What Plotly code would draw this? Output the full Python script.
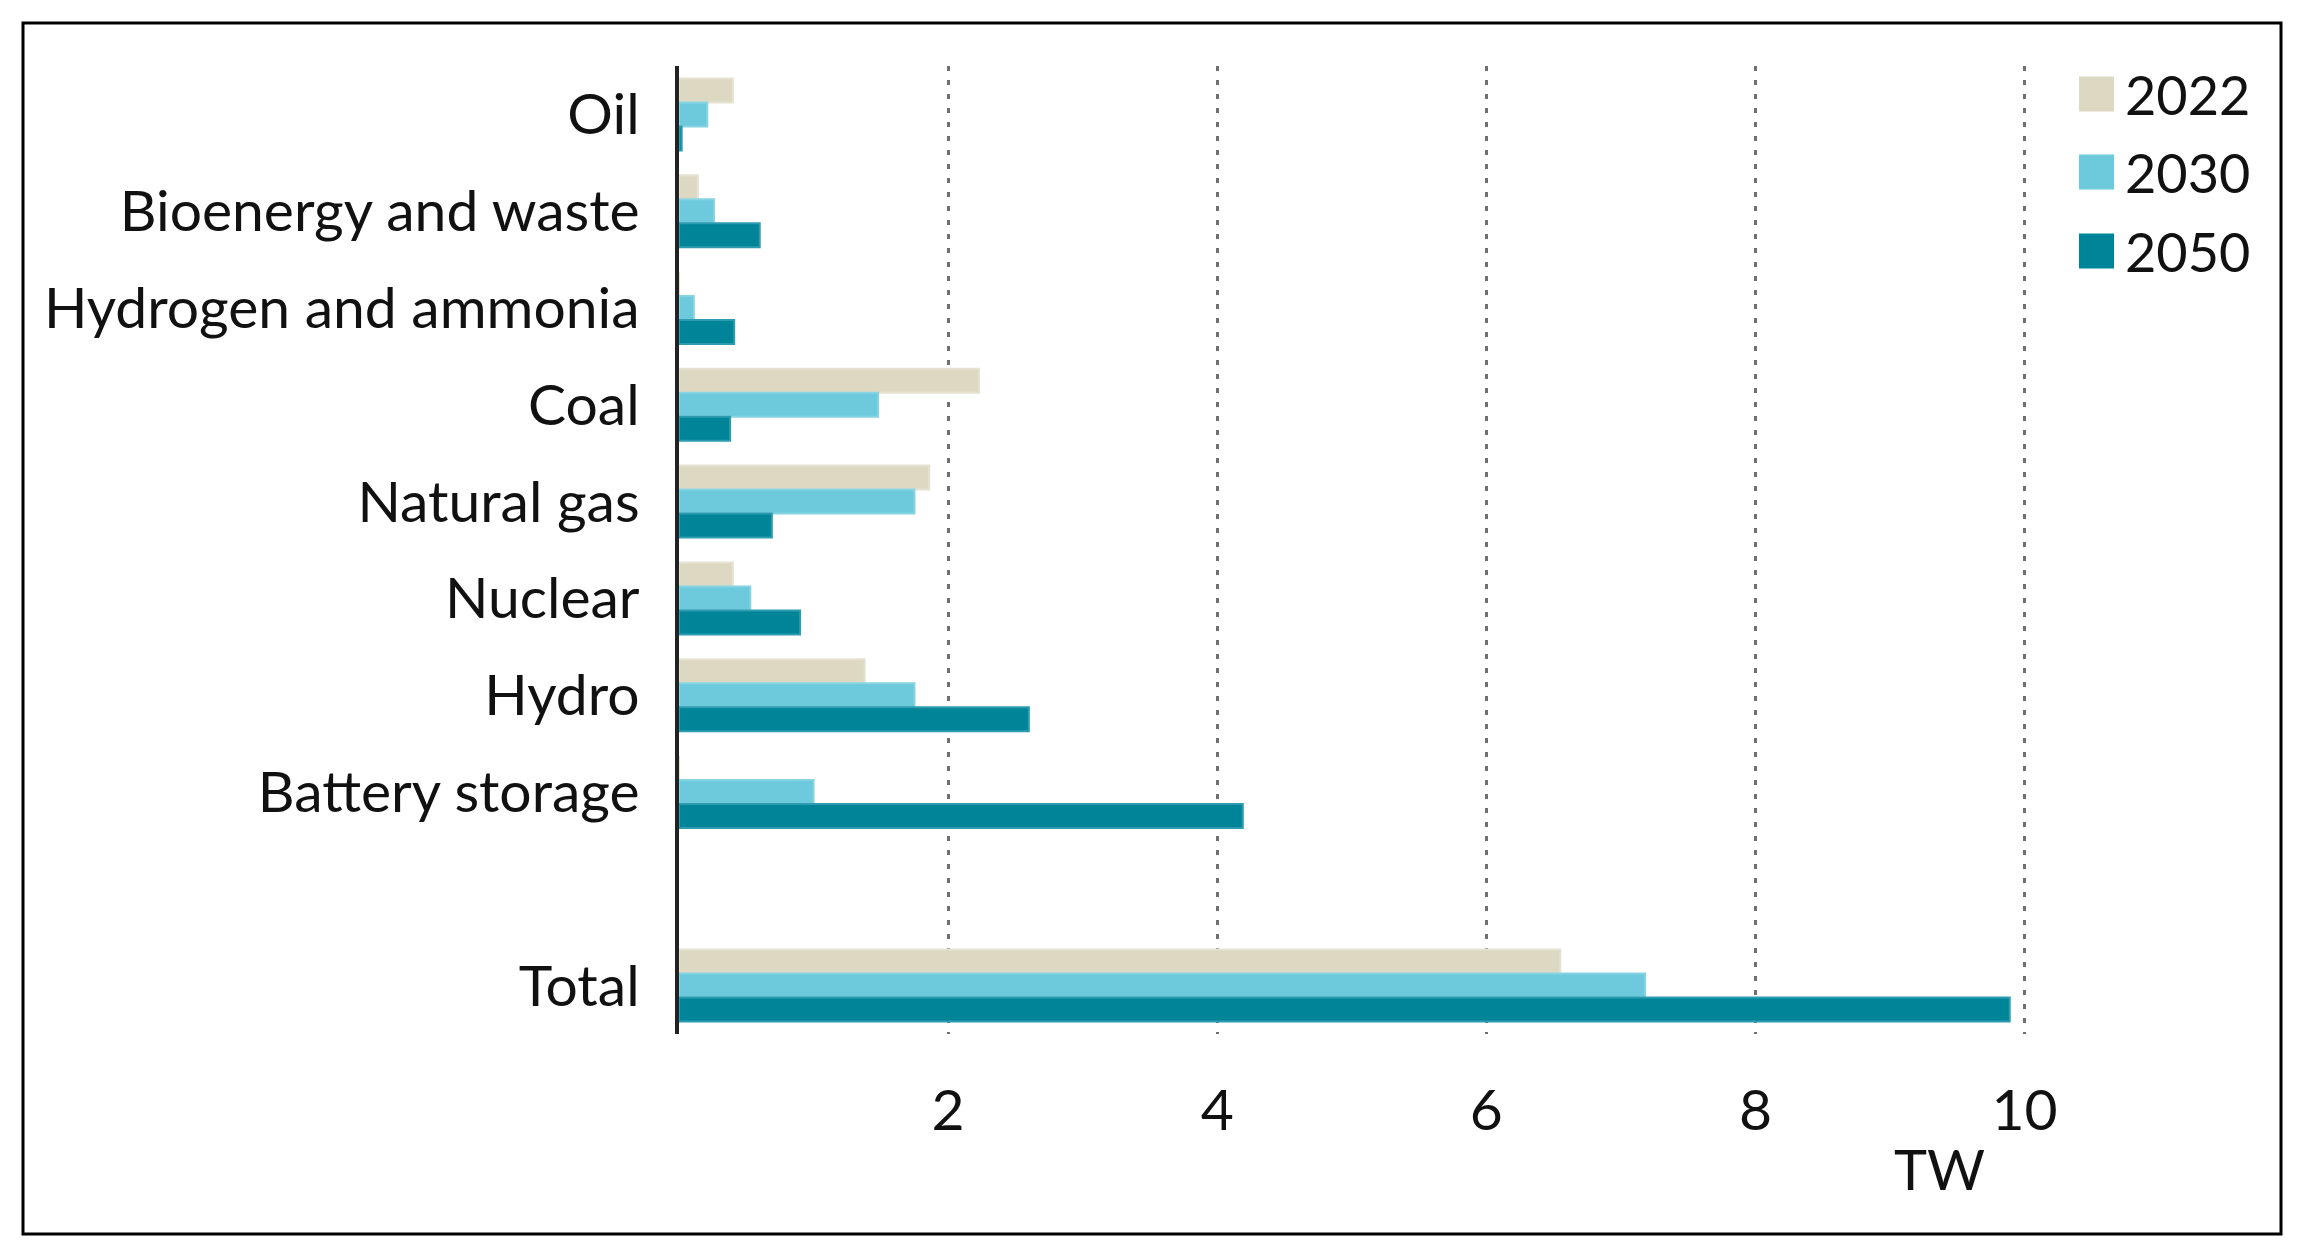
import plotly.graph_objects as go

# ---- data ----
categories = ["Oil", "Bioenergy and waste", "Hydrogen and ammonia", "Coal",
              "Natural gas", "Nuclear", "Hydro", "Battery storage", "Total"]
series_names = ["2022", "2030", "2050"]
values_2022 = [0.40, 0.14, 0.00, 2.23, 1.86, 0.40, 1.38, 0.00, 6.55]
values_2030 = [0.21, 0.26, 0.11, 1.48, 1.75, 0.53, 1.75, 1.00, 7.18]
values_2050 = [0.02, 0.60, 0.41, 0.38, 0.69, 0.90, 2.60, 4.19, 9.89]
x_tick_values = [2, 4, 6, 8, 10]
x_tick_labels = ["2", "4", "6", "8", "10"]
unit_label = "TW"

# ---- style ----
colors = ["#DDD8C2", "#6DCADC", "#008497"]
edge_colors = ["#E6E2D2", "#86D4E2", "#2E9CB0"]
FONT = "Lato"
W, H = 2299, 1255
OFF = 8  # page body margin
X_MAX = 10.1
PX_PER_UNIT = 134.6
PW, PH = int(round(PX_PER_UNIT * X_MAX)), 968
L, T = 679 - OFF, 66 - OFF
R, B = W - L - PW, H - T - PH


def px_x(px):
    return (px - OFF - L) / PW


def px_y(py):
    return (T + PH - (py - OFF)) / PH


series_values = [values_2022, values_2030, values_2050]
fig = go.Figure()
for name, vals, col, ecol in zip(series_names, series_values, colors, edge_colors):
    fig.add_trace(go.Bar(
        y=categories, x=vals, name=name, orientation="h",
        marker=dict(color=col, line=dict(color=ecol, width=2)),
        showlegend=False,
    ))

cat_order = categories[:-1] + [" "] + categories[-1:]

fig.update_layout(
    width=W, height=H,
    margin=dict(l=L, r=R, t=T, b=B, autoexpand=False),
    paper_bgcolor="white", plot_bgcolor="white",
    barmode="group", bargap=0.256, bargroupgap=0,
    font=dict(family=FONT, color="#111111"),
    xaxis=dict(
        range=[0, X_MAX], tickvals=x_tick_values, ticktext=x_tick_labels,
        showgrid=True, gridcolor="#707070", gridwidth=3, griddash="5px,9px",
        zeroline=False, showline=False, ticks="",
        tickfont=dict(family=FONT, size=57, color="#111111"),
        ticklabelstandoff=38,
    ),
    yaxis=dict(
        type="category", categoryorder="array", categoryarray=cat_order,
        range=[len(cat_order) - 0.5, -0.5],
        showgrid=False, zeroline=False,
        showline=True, linecolor="#222222", linewidth=4,
        ticks="", tickfont=dict(family=FONT, size=57, color="#111111"),
        ticklabelstandoff=24,
    ),
)

# unit label
fig.add_annotation(text=unit_label, xref="paper", yref="paper",
                   x=px_x(1939), y=px_y(1168), xanchor="center", yanchor="middle",
                   showarrow=False, font=dict(family=FONT, size=56, color="#111111"))

# manual legend with large swatches
legend_y = [94, 172, 251]
sw = 35
for name, col, cy in zip(series_names, colors, legend_y):
    fig.add_shape(type="rect", xref="paper", yref="paper",
                  x0=px_x(2079), x1=px_x(2079 + sw),
                  y0=px_y(cy + sw / 2), y1=px_y(cy - sw / 2),
                  fillcolor=col, line=dict(width=0))
    fig.add_annotation(text=name, xref="paper", yref="paper",
                       x=px_x(2123), y=px_y(cy), xanchor="left", yanchor="middle",
                       showarrow=False, font=dict(family=FONT, size=54, color="#111111"))

# outer border
fig.add_shape(type="rect", xref="paper", yref="paper",
              x0=px_x(23), x1=px_x(2281), y0=px_y(1234), y1=px_y(23),
              line=dict(color="black", width=3), fillcolor="rgba(0,0,0,0)", layer="above")

fig.write_html("out.html")
